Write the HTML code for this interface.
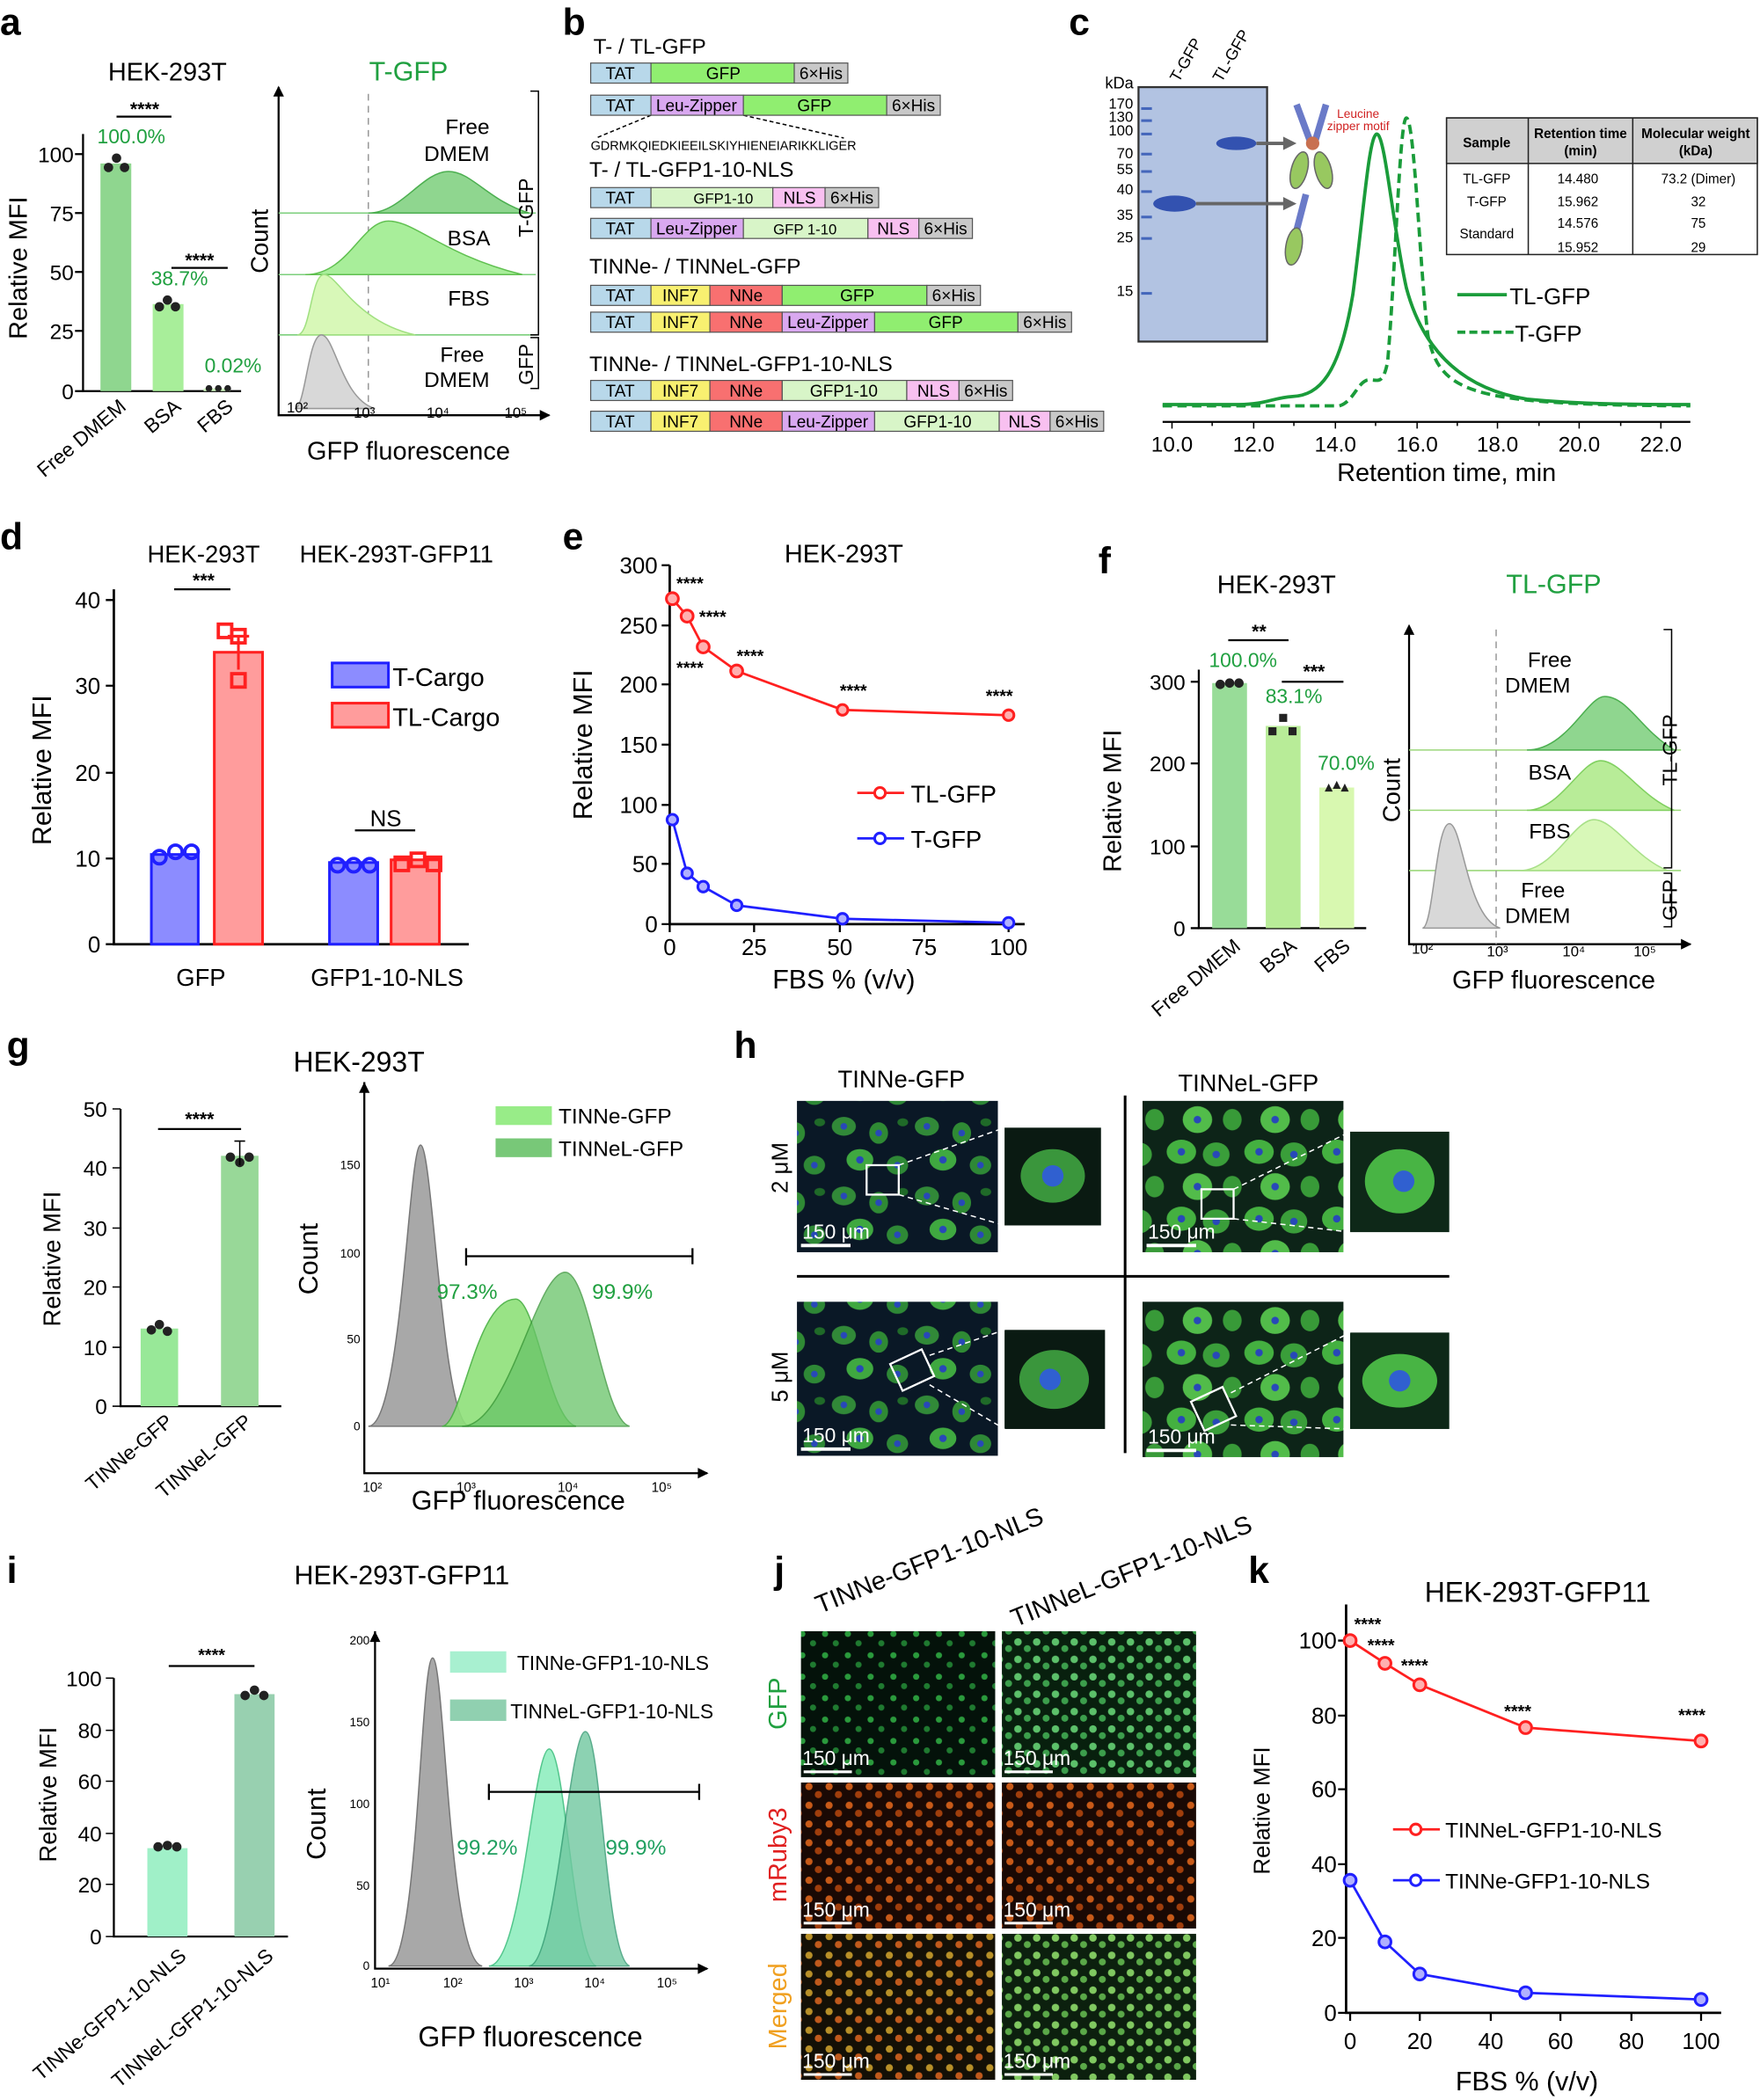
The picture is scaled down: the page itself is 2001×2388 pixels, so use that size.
<!DOCTYPE html>
<html><head><meta charset="utf-8"><style>
html,body{margin:0;padding:0;background:#fff}
svg{display:block}
text{font-family:"Liberation Sans",Arial,sans-serif}
</style></head><body>
<svg width="2001" height="2388" viewBox="0 0 1314 1568" xmlns="http://www.w3.org/2000/svg">
<defs>
<pattern id="cellsG" width="62" height="52" patternUnits="userSpaceOnUse">
<rect width="62" height="52" fill="#0a1826"/>
<ellipse cx="10" cy="9" rx="9" ry="7" fill="#35963a" opacity="0.9"/><circle cx="10" cy="9" r="2.5" fill="#2848b8"/>
<ellipse cx="36" cy="14" rx="7" ry="8" fill="#2f8a34"/><circle cx="36" cy="14" r="2.5" fill="#2848b8"/>
<ellipse cx="22" cy="34" rx="10" ry="8" fill="#3fa840"/><circle cx="22" cy="34" r="2.8" fill="#2848b8"/>
<ellipse cx="50" cy="38" rx="8" ry="7" fill="#2e8836"/><circle cx="50" cy="38" r="2.5" fill="#2848b8"/>
<ellipse cx="54" cy="6" rx="4" ry="3" fill="#1f6a28"/>
</pattern>
<pattern id="cellsG2" width="58" height="50" patternUnits="userSpaceOnUse">
<rect width="58" height="50" fill="#0d2418"/>
<ellipse cx="12" cy="10" rx="11" ry="9" fill="#44b040"/><circle cx="12" cy="10" r="2.8" fill="#2848b8"/>
<ellipse cx="38" cy="12" rx="10" ry="9" fill="#3a9e3a"/><circle cx="38" cy="12" r="2.8" fill="#2848b8"/>
<ellipse cx="24" cy="36" rx="11" ry="10" fill="#52bc4a"/><circle cx="24" cy="36" r="2.8" fill="#2848b8"/>
<ellipse cx="50" cy="36" rx="7" ry="8" fill="#389a38"/>
</pattern>
<pattern id="nucG" width="17" height="16" patternUnits="userSpaceOnUse">
<rect width="17" height="16" fill="#04120a"/><circle cx="4" cy="4" r="2.3" fill="#2a9a3c"/><circle cx="12" cy="11" r="2.3" fill="#1f7a30"/>
</pattern>
<pattern id="nucG2" width="14" height="13" patternUnits="userSpaceOnUse">
<rect width="14" height="13" fill="#08200e"/><circle cx="4" cy="4" r="2.8" fill="#5cc06a"/><circle cx="11" cy="9" r="2.6" fill="#3c9e4c"/>
</pattern>
<pattern id="nucR" width="15" height="14" patternUnits="userSpaceOnUse">
<rect width="15" height="14" fill="#1a0904"/><circle cx="4" cy="4" r="2.7" fill="#c85a18"/><circle cx="11" cy="10" r="2.7" fill="#a03e0c"/>
</pattern>
<pattern id="nucM" width="15" height="14" patternUnits="userSpaceOnUse">
<rect width="15" height="14" fill="#141006"/><circle cx="4" cy="4" r="2.7" fill="#b89028"/><circle cx="11" cy="10" r="2.7" fill="#c05a1c"/>
</pattern>
<pattern id="nucM2" width="14" height="13" patternUnits="userSpaceOnUse">
<rect width="14" height="13" fill="#0c200e"/><circle cx="4" cy="4" r="2.8" fill="#80c860"/><circle cx="11" cy="9" r="2.6" fill="#5aa848"/>
</pattern>
</defs>

<g font-weight="bold" font-size="28">
<text x="0" y="26">a</text><text x="420" y="26">b</text><text x="798" y="26">c</text>
<text x="0" y="410">d</text><text x="420" y="410">e</text><text x="820" y="428">f</text>
<text x="5" y="790">g</text><text x="548" y="790">h</text>
<text x="5" y="1182">i</text><text x="578" y="1182">j</text><text x="932" y="1182">k</text>
</g>

<!-- ===== Panel a bar ===== -->
<text x="125" y="60" font-size="19" text-anchor="middle">HEK-293T</text>
<g stroke="#000" stroke-width="1.5" fill="none">
<path d="M62 100 V292 H180"/>
<path d="M56 115H62M56 159H62M56 203H62M56 247H62M56 292H62"/>
</g>
<g font-size="16" text-anchor="end"><text x="55" y="121">100</text><text x="55" y="165">75</text><text x="55" y="209">50</text><text x="55" y="253">25</text><text x="55" y="298">0</text></g>
<text x="20" y="200" font-size="19" transform="rotate(-90 20 200)" text-anchor="middle">Relative MFI</text>
<rect x="75" y="122" width="23" height="170" fill="#8fd68f"/>
<rect x="114" y="227" width="23" height="65" fill="#a8ee9a"/>
<rect x="152" y="290" width="20" height="2" fill="#d0f8c0"/>
<g fill="#222"><circle cx="81" cy="125" r="3.5"/><circle cx="87" cy="118" r="3.5"/><circle cx="93" cy="125" r="3.5"/>
<circle cx="119" cy="229" r="3.5"/><circle cx="125" cy="224" r="3.5"/><circle cx="131" cy="229" r="3.5"/>
<circle cx="156" cy="290" r="2.5"/><circle cx="163" cy="290" r="2.5"/><circle cx="170" cy="290" r="2.5"/></g>
<path d="M87 87H128M128 200H170" stroke="#000" stroke-width="1.5"/>
<text x="108" y="86" font-size="14" font-weight="bold" text-anchor="middle">****</text>
<text x="149" y="199" font-size="14" font-weight="bold" text-anchor="middle">****</text>
<g fill="#20a040" font-size="15" text-anchor="middle"><text x="98" y="107">100.0%</text><text x="134" y="213">38.7%</text><text x="174" y="278">0.02%</text></g>
<g font-size="15" text-anchor="end"><text x="95" y="305" transform="rotate(-40 95 305)">Free DMEM</text><text x="136" y="305" transform="rotate(-40 136 305)">BSA</text><text x="175" y="305" transform="rotate(-40 175 305)">FBS</text></g>

<!-- Panel a histogram -->
<text x="305" y="60" font-size="20" fill="#20a040" text-anchor="middle">T-GFP</text>
<path d="M208 65V310H410" stroke="#000" stroke-width="1.5" fill="none"/>
<path d="M204 72L208 64L212 72Z M403 306L411 310L403 314Z"/>
<g stroke="#7ccf7c" stroke-width="1"><path d="M208 159H400M208 205H400M208 250H400"/></g>
<path d="M275 70V310" stroke="#999" stroke-dasharray="5,4"/>
<path d="M275 159 C300 159,315 128,335 128 C352 128,365 150,395 159Z" fill="#8fd68f" stroke="#4caf50"/>
<path d="M228 205 C260 205,270 165,290 165 C310 165,330 190,390 205Z" fill="#a8ee9a" stroke="#60c050"/>
<path d="M222 250 C232 250,232 205,242 205 C252 205,265 240,310 250Z" fill="#d8f8b8" stroke="#a0e080"/>
<path d="M220 305 C228 305,230 250,240 250 C250 250,255 298,280 305Z" fill="#d8d8d8" stroke="#999"/>
<g font-size="16" text-anchor="middle"><text x="349" y="100">Free</text><text x="341" y="120">DMEM</text><text x="350" y="183">BSA</text><text x="350" y="228">FBS</text><text x="345" y="270">Free</text><text x="341" y="289">DMEM</text></g>
<path d="M396 68H402V250H396M396 252H402V290H396" stroke="#000" fill="none"/>
<text x="398" y="155" font-size="15" transform="rotate(-90 398 155)" text-anchor="middle">T-GFP</text>
<text x="398" y="272" font-size="15" transform="rotate(-90 398 272)" text-anchor="middle">GFP</text>
<text x="200" y="180" font-size="18" transform="rotate(-90 200 180)" text-anchor="middle">Count</text>
<g font-size="11" text-anchor="middle"><text x="222" y="308">10²</text><text x="272" y="312">10³</text><text x="327" y="312">10⁴</text><text x="385" y="312">10⁵</text></g>
<text x="305" y="343" font-size="19" text-anchor="middle">GFP fluorescence</text>

<!-- ===== Panel b ===== -->
<g font-size="16"><text x="443" y="40">T- / TL-GFP</text><text x="440" y="132">T- / TL-GFP1-10-NLS</text><text x="440" y="204">TINNe- / TINNeL-GFP</text><text x="440" y="277">TINNe- / TINNeL-GFP1-10-NLS</text></g>
<text x="441" y="112" font-size="9.5">GDRMKQIEDKIEEILSKIYHIENEIARIKKLIGER</text>
<path d="M486 86L445 103M555 86L630 103" stroke="#000" stroke-dasharray="3,2"/>
<g stroke="#555" stroke-width="0.8" font-size="12.5">
<rect x="441" y="47" width="45" height="15" fill="#b8d8ea"/><rect x="486" y="47" width="107" height="15" fill="#90ee70"/><rect x="593" y="47" width="40" height="15" fill="#c8c8c8"/>
<rect x="441" y="71" width="45" height="15" fill="#b8d8ea"/><rect x="486" y="71" width="69" height="15" fill="#d9a8f0"/><rect x="555" y="71" width="107" height="15" fill="#90ee70"/><rect x="662" y="71" width="40" height="15" fill="#c8c8c8"/>
<rect x="441" y="140" width="45" height="15" fill="#b8d8ea"/><rect x="486" y="140" width="91" height="15" fill="#d8f5c8"/><rect x="577" y="140" width="39" height="15" fill="#f8c0f0"/><rect x="616" y="140" width="40" height="15" fill="#c8c8c8"/>
<rect x="441" y="163" width="45" height="15" fill="#b8d8ea"/><rect x="486" y="163" width="69" height="15" fill="#d9a8f0"/><rect x="555" y="163" width="93" height="15" fill="#d8f5c8"/><rect x="648" y="163" width="38" height="15" fill="#f8c0f0"/><rect x="686" y="163" width="40" height="15" fill="#c8c8c8"/>
<rect x="441" y="213" width="45" height="15" fill="#b8d8ea"/><rect x="486" y="213" width="44" height="15" fill="#f8f070"/><rect x="530" y="213" width="54" height="15" fill="#f87070"/><rect x="584" y="213" width="108" height="15" fill="#90ee70"/><rect x="692" y="213" width="40" height="15" fill="#c8c8c8"/>
<rect x="441" y="233" width="45" height="15" fill="#b8d8ea"/><rect x="486" y="233" width="44" height="15" fill="#f8f070"/><rect x="530" y="233" width="54" height="15" fill="#f87070"/><rect x="584" y="233" width="69" height="15" fill="#d9a8f0"/><rect x="653" y="233" width="107" height="15" fill="#90ee70"/><rect x="760" y="233" width="40" height="15" fill="#c8c8c8"/>
<rect x="441" y="284" width="45" height="15" fill="#b8d8ea"/><rect x="486" y="284" width="44" height="15" fill="#f8f070"/><rect x="530" y="284" width="54" height="15" fill="#f87070"/><rect x="584" y="284" width="93" height="15" fill="#d8f5c8"/><rect x="677" y="284" width="39" height="15" fill="#f8c0f0"/><rect x="716" y="284" width="40" height="15" fill="#c8c8c8"/>
<rect x="441" y="307" width="45" height="15" fill="#b8d8ea"/><rect x="486" y="307" width="44" height="15" fill="#f8f070"/><rect x="530" y="307" width="54" height="15" fill="#f87070"/><rect x="584" y="307" width="69" height="15" fill="#d9a8f0"/><rect x="653" y="307" width="93" height="15" fill="#d8f5c8"/><rect x="746" y="307" width="38" height="15" fill="#f8c0f0"/><rect x="784" y="307" width="40" height="15" fill="#c8c8c8"/>
</g>
<g font-size="12.5" text-anchor="middle">
<text x="463" y="59">TAT</text><text x="540" y="59">GFP</text><text x="613" y="59">6×His</text>
<text x="463" y="83">TAT</text><text x="520" y="83">Leu-Zipper</text><text x="608" y="83">GFP</text><text x="682" y="83">6×His</text>
<text x="463" y="152">TAT</text><text x="540" y="152" font-size="11">GFP1-10</text><text x="597" y="152">NLS</text><text x="636" y="152">6×His</text>
<text x="463" y="175">TAT</text><text x="520" y="175">Leu-Zipper</text><text x="601" y="175" font-size="11">GFP 1-10</text><text x="667" y="175">NLS</text><text x="706" y="175">6×His</text>
<text x="463" y="225">TAT</text><text x="508" y="225">INF7</text><text x="557" y="225">NNe</text><text x="640" y="225">GFP</text><text x="712" y="225">6×His</text>
<text x="463" y="245">TAT</text><text x="508" y="245">INF7</text><text x="557" y="245">NNe</text><text x="618" y="245">Leu-Zipper</text><text x="706" y="245">GFP</text><text x="780" y="245">6×His</text>
<text x="463" y="296">TAT</text><text x="508" y="296">INF7</text><text x="557" y="296">NNe</text><text x="630" y="296">GFP1-10</text><text x="697" y="296">NLS</text><text x="736" y="296">6×His</text>
<text x="463" y="319">TAT</text><text x="508" y="319">INF7</text><text x="557" y="319">NNe</text><text x="618" y="319">Leu-Zipper</text><text x="700" y="319">GFP1-10</text><text x="765" y="319">NLS</text><text x="804" y="319">6×His</text>
</g>

<!-- ===== Panel c ===== -->
<rect x="850" y="65" width="96" height="190" fill="#b2c3e2" stroke="#333" stroke-width="1.5"/>
<g fill="#4466bb"><rect x="852" y="80" width="8" height="2"/><rect x="852" y="89" width="8" height="2"/><rect x="852" y="99" width="8" height="2"/><rect x="852" y="114" width="8" height="2"/><rect x="852" y="127" width="8" height="2"/><rect x="852" y="142" width="8" height="2"/><rect x="852" y="161" width="8" height="2"/><rect x="852" y="177" width="8" height="2"/><rect x="852" y="218" width="8" height="2"/></g>
<ellipse cx="877" cy="152" rx="16" ry="6" fill="#3352b0"/>
<ellipse cx="923" cy="107" rx="15" ry="5" fill="#3352b0"/>
<path d="M893 152H960M938 107H960" stroke="#666" stroke-width="2.5"/>
<path d="M958 102L968 107L958 112Z M958 147L968 152L958 157Z" fill="#666"/>
<g font-size="11" text-anchor="end"><text x="846" y="81">170</text><text x="846" y="91">130</text><text x="846" y="101">100</text><text x="846" y="118">70</text><text x="846" y="130">55</text><text x="846" y="145">40</text><text x="846" y="164">35</text><text x="846" y="181">25</text><text x="846" y="221">15</text></g>
<text x="825" y="66" font-size="12">kDa</text>
<text x="880" y="62" font-size="12" transform="rotate(-60 880 62)">T-GFP</text>
<text x="912" y="62" font-size="12" transform="rotate(-60 912 62)">TL-GFP</text>
<path d="M968 78L978 105M990 78L982 105" stroke="#6a7ac8" stroke-width="5"/>
<circle cx="980" cy="107" r="5" fill="#c87050"/>
<ellipse cx="970" cy="127" rx="6" ry="14" fill="#98c860" stroke="#666" transform="rotate(15 970 127)"/>
<ellipse cx="988" cy="127" rx="6" ry="14" fill="#98c860" stroke="#666" transform="rotate(-15 988 127)"/>
<path d="M975 145L968 172" stroke="#6a7ac8" stroke-width="5"/>
<ellipse cx="966" cy="184" rx="6" ry="14" fill="#98c860" stroke="#666" transform="rotate(10 966 184)"/>
<text x="1014" y="88" font-size="9" fill="#d02020" text-anchor="middle">Leucine</text>
<text x="1014" y="97" font-size="9" fill="#d02020" text-anchor="middle">zipper motif</text>
<rect x="1080" y="88" width="232" height="102" fill="#fff" stroke="#222"/>
<rect x="1080" y="88" width="232" height="34" fill="#d0d0d0" stroke="#222"/>
<path d="M1141 88V190M1219 88V190" stroke="#222"/>
<g font-size="10" text-anchor="middle">
<text x="1110" y="110" font-weight="bold">Sample</text><text x="1180" y="103" font-weight="bold">Retention time</text><text x="1180" y="116" font-weight="bold">(min)</text><text x="1266" y="103" font-weight="bold">Molecular weight</text><text x="1266" y="116" font-weight="bold">(kDa)</text>
<text x="1110" y="137">TL-GFP</text><text x="1178" y="137">14.480</text><text x="1268" y="137">73.2 (Dimer)</text>
<text x="1110" y="154">T-GFP</text><text x="1178" y="154">15.962</text><text x="1268" y="154">32</text>
<text x="1110" y="178">Standard</text><text x="1178" y="170">14.576</text><text x="1268" y="170">75</text><text x="1178" y="188">15.952</text><text x="1268" y="188">29</text>
</g>
<path d="M868 315H1262" stroke="#000" stroke-width="1.5"/>
<g stroke="#000"><path d="M875 315v5M905 315v3M936 315v5M966 315v3M997 315v5M1027 315v3M1058 315v5M1088 315v3M1118 315v5M1149 315v3M1179 315v5M1210 315v3M1240 315v5"/></g>
<g font-size="16" text-anchor="middle"><text x="875" y="337">10.0</text><text x="936" y="337">12.0</text><text x="997" y="337">14.0</text><text x="1058" y="337">16.0</text><text x="1118" y="337">18.0</text><text x="1179" y="337">20.0</text><text x="1240" y="337">22.0</text></g>
<text x="1080" y="359" font-size="19" text-anchor="middle">Retention time, min</text>
<path d="M868 302H925C945 302,950 297,965 296C985 295,1000 280,1010 220C1018 160,1022 100,1028 100C1034 100,1040 170,1050 215C1062 260,1090 290,1140 298C1180 302,1230 302,1262 302" fill="none" stroke="#1a9c3a" stroke-width="2.5"/>
<path d="M868 303H1000C1010 300,1013 287,1020 284C1028 282,1032 290,1036 270C1042 200,1045 88,1050 88C1056 88,1060 200,1066 250C1075 295,1100 302,1262 303" fill="none" stroke="#1a9c3a" stroke-width="2.5" stroke-dasharray="7,4"/>
<path d="M1088 220H1125" stroke="#1a9c3a" stroke-width="2.5"/><text x="1127" y="227" font-size="17">TL-GFP</text>
<path d="M1088 248H1130" stroke="#1a9c3a" stroke-width="2.5" stroke-dasharray="6,3"/><text x="1131" y="255" font-size="17">T-GFP</text>

<!-- ===== Panel d ===== -->
<text x="152" y="420" font-size="18" text-anchor="middle">HEK-293T</text>
<text x="296" y="420" font-size="18" text-anchor="middle">HEK-293T-GFP11</text>
<path d="M85 440V705H350" stroke="#000" stroke-width="1.8" fill="none"/>
<path d="M79 448H85M79 512H85M79 577H85M79 641H85M79 705H85" stroke="#000" stroke-width="1.5"/>
<g font-size="17" text-anchor="end"><text x="75" y="454">40</text><text x="75" y="518">30</text><text x="75" y="583">20</text><text x="75" y="647">10</text><text x="75" y="711">0</text></g>
<text x="38" y="575" font-size="20" transform="rotate(-90 38 575)" text-anchor="middle">Relative MFI</text>
<rect x="113" y="638" width="35" height="67" fill="#8c8cff" stroke="#2020ff" stroke-width="2"/>
<rect x="160" y="487" width="36" height="218" fill="#ff9c9c" stroke="#ff2020" stroke-width="2"/>
<rect x="246" y="644" width="36" height="61" fill="#8c8cff" stroke="#2020ff" stroke-width="2"/>
<rect x="292" y="642" width="36" height="63" fill="#ff9c9c" stroke="#ff2020" stroke-width="2"/>
<g fill="none" stroke-width="2.5"><g stroke="#2020ff"><circle cx="119" cy="640" r="5"/><circle cx="131" cy="636" r="5"/><circle cx="143" cy="636" r="5"/><circle cx="252" cy="646" r="5"/><circle cx="264" cy="646" r="5"/><circle cx="276" cy="646" r="5"/></g>
<g stroke="#ff2020"><rect x="163" y="466" width="10" height="10"/><rect x="173" y="470" width="10" height="10"/><rect x="173" y="503" width="10" height="10"/><rect x="295" y="640" width="10" height="10"/><rect x="307" y="637" width="10" height="10"/><rect x="319" y="640" width="10" height="10"/></g></g>
<path d="M178 475V500M170 475H186" stroke="#ff2020" stroke-width="2"/>
<path d="M130 440H172M265 620H310" stroke="#000" stroke-width="1.5"/>
<text x="152" y="438" font-size="14" font-weight="bold" text-anchor="middle">***</text>
<text x="288" y="617" font-size="17" text-anchor="middle">NS</text>
<rect x="248" y="495" width="42" height="18" fill="#8c8cff" stroke="#2020ff" stroke-width="2"/><text x="293" y="512" font-size="19">T-Cargo</text>
<rect x="248" y="525" width="42" height="18" fill="#ff9c9c" stroke="#ff2020" stroke-width="2"/><text x="293" y="542" font-size="19">TL-Cargo</text>
<g font-size="18" text-anchor="middle"><text x="150" y="736">GFP</text><text x="289" y="736">GFP1-10-NLS</text></g>

<!-- ===== Panel e ===== -->
<text x="630" y="420" font-size="19" text-anchor="middle">HEK-293T</text>
<path d="M500 422V690H765" stroke="#000" stroke-width="1.8" fill="none"/>
<g stroke="#000" stroke-width="1.5"><path d="M494 422H500M494 467H500M494 511H500M494 556H500M494 601H500M494 645H500M494 690H500M500 690v6M563 690v6M627 690v6M690 690v6M753 690v6"/></g>
<g font-size="17" text-anchor="end"><text x="491" y="428">300</text><text x="491" y="473">250</text><text x="491" y="517">200</text><text x="491" y="562">150</text><text x="491" y="607">100</text><text x="491" y="651">50</text><text x="491" y="696">0</text></g>
<g font-size="17" text-anchor="middle"><text x="500" y="713">0</text><text x="563" y="713">25</text><text x="627" y="713">50</text><text x="690" y="713">75</text><text x="753" y="713">100</text></g>
<text x="630" y="738" font-size="20" text-anchor="middle">FBS % (v/v)</text>
<text x="442" y="556" font-size="20" transform="rotate(-90 442 556)" text-anchor="middle">Relative MFI</text>
<polyline points="502,447 513,460 525,483 550,501 629,530 753,534" fill="none" stroke="#ff2020" stroke-width="1.8"/>
<polyline points="502,612 513,652 525,662 550,676 629,686 753,689" fill="none" stroke="#2020ff" stroke-width="1.8"/>
<g fill="#ffb0b0" stroke="#ff2020" stroke-width="2"><circle cx="502" cy="447" r="4.5"/><circle cx="513" cy="460" r="4.5"/><circle cx="525" cy="483" r="4.5"/><circle cx="550" cy="501" r="4.5"/><circle cx="629" cy="530" r="4"/><circle cx="753" cy="534" r="4"/></g>
<g fill="#b0b0ff" stroke="#2020ff" stroke-width="2"><circle cx="502" cy="612" r="4"/><circle cx="513" cy="652" r="4"/><circle cx="525" cy="662" r="4"/><circle cx="550" cy="676" r="4"/><circle cx="629" cy="686" r="4"/><circle cx="753" cy="689" r="4"/></g>
<g font-size="13" font-weight="bold"><text x="505" y="440">****</text><text x="522" y="465">****</text><text x="505" y="503">****</text><text x="550" y="494">****</text><text x="627" y="520">****</text><text x="736" y="524">****</text></g>
<path d="M640 592H675" stroke="#ff2020" stroke-width="1.8"/><circle cx="657" cy="592" r="4" fill="#fff" stroke="#ff2020" stroke-width="2"/><text x="680" y="599" font-size="18">TL-GFP</text>
<path d="M640 626H675" stroke="#2020ff" stroke-width="1.8"/><circle cx="657" cy="626" r="4" fill="#fff" stroke="#2020ff" stroke-width="2"/><text x="680" y="633" font-size="18">T-GFP</text>

<!-- ===== Panel f ===== -->
<text x="953" y="443" font-size="19" text-anchor="middle">HEK-293T</text>
<path d="M895 500V693H1020" stroke="#000" stroke-width="1.5" fill="none"/>
<path d="M889 509H895M889 570H895M889 632H895M889 693H895" stroke="#000" stroke-width="1.5"/>
<g font-size="16" text-anchor="end"><text x="885" y="515">300</text><text x="885" y="576">200</text><text x="885" y="638">100</text><text x="885" y="699">0</text></g>
<text x="837" y="598" font-size="19" transform="rotate(-90 837 598)" text-anchor="middle">Relative MFI</text>
<rect x="905" y="510" width="26" height="183" fill="#98dc98"/><rect x="945" y="542" width="26" height="151" fill="#b8ec98"/><rect x="985" y="588" width="26" height="105" fill="#d8f8b0"/>
<g fill="#222"><circle cx="911" cy="511" r="3.5"/><circle cx="918" cy="510" r="3.5"/><circle cx="925" cy="510" r="3.5"/><rect x="947" y="543" width="6" height="6"/><rect x="955" y="533" width="6" height="6"/><rect x="962" y="543" width="6" height="6"/><path d="M989 591l3-6 3 6z M995 589l3-6 3 6z M1001 591l3-6 3 6z"/></g>
<path d="M917 478H962M957 509H1003" stroke="#000" stroke-width="1.5"/>
<text x="940" y="476" font-size="14" font-weight="bold" text-anchor="middle">**</text><text x="981" y="506" font-size="14" font-weight="bold" text-anchor="middle">***</text>
<g fill="#20a040" font-size="15" text-anchor="middle"><text x="928" y="498">100.0%</text><text x="966" y="525">83.1%</text><text x="1005" y="575">70.0%</text></g>
<g font-size="15" text-anchor="end"><text x="927" y="708" transform="rotate(-40 927 708)">Free DMEM</text><text x="969" y="708" transform="rotate(-40 969 708)">BSA</text><text x="1009" y="708" transform="rotate(-40 1009 708)">FBS</text></g>
<text x="1160" y="443" font-size="20" fill="#20a040" text-anchor="middle">TL-GFP</text>
<path d="M1052 470V705H1262" stroke="#000" stroke-width="1.5" fill="none"/>
<path d="M1048 474L1052 466L1056 474Z M1255 701L1263 705L1255 709Z"/>
<g stroke="#9cd87c"><path d="M1052 560H1255M1052 605H1255M1052 650H1255"/></g>
<path d="M1117 470V705" stroke="#999" stroke-dasharray="5,4"/>
<path d="M1140 560 C1170 560,1185 520,1198 520 C1215 520,1225 545,1250 560Z" fill="#8fd68f" stroke="#4caf50"/>
<path d="M1140 605 C1165 605,1180 568,1195 568 C1210 568,1225 595,1250 605Z" fill="#b8ec98" stroke="#80d060"/>
<path d="M1135 650 C1160 650,1175 612,1190 612 C1205 612,1220 640,1245 650Z" fill="#d8f8b8" stroke="#a8e088"/>
<path d="M1062 693 C1070 693,1072 615,1082 615 C1092 615,1095 685,1120 693Z" fill="#d8d8d8" stroke="#999"/>
<g font-size="16" text-anchor="middle"><text x="1157" y="498">Free</text><text x="1148" y="517">DMEM</text><text x="1157" y="582">BSA</text><text x="1157" y="626">FBS</text><text x="1152" y="670">Free</text><text x="1148" y="689">DMEM</text></g>
<path d="M1242 470H1248V648H1242M1242 652H1248V692H1242" stroke="#000" fill="none"/>
<text x="1252" y="560" font-size="15" transform="rotate(-90 1252 560)" text-anchor="middle">TL-GFP</text>
<text x="1252" y="672" font-size="15" transform="rotate(-90 1252 672)" text-anchor="middle">GFP</text>
<text x="1045" y="590" font-size="18" transform="rotate(-90 1045 590)" text-anchor="middle">Count</text>
<g font-size="11" text-anchor="middle"><text x="1062" y="712">10²</text><text x="1118" y="714">10³</text><text x="1175" y="714">10⁴</text><text x="1228" y="714">10⁵</text></g>
<text x="1160" y="738" font-size="19" text-anchor="middle">GFP fluorescence</text>

<!-- ===== Panel g ===== -->
<text x="268" y="800" font-size="21" text-anchor="middle">HEK-293T</text>
<path d="M90 828V1050H210" stroke="#000" stroke-width="1.5" fill="none"/>
<path d="M84 828H90M84 872H90M84 917H90M84 961H90M84 1006H90M84 1050H90" stroke="#000"/>
<g font-size="16" text-anchor="end"><text x="80" y="834">50</text><text x="80" y="878">40</text><text x="80" y="923">30</text><text x="80" y="967">20</text><text x="80" y="1012">10</text><text x="80" y="1056">0</text></g>
<text x="45" y="940" font-size="18" transform="rotate(-90 45 940)" text-anchor="middle">Relative MFI</text>
<rect x="105" y="992" width="28" height="58" fill="#98e898"/><rect x="165" y="863" width="28" height="187" fill="#98d898"/>
<g fill="#222"><circle cx="113" cy="993" r="3.5"/><circle cx="119" cy="989" r="3.5"/><circle cx="125" cy="994" r="3.5"/><circle cx="172" cy="864" r="3.5"/><circle cx="179" cy="868" r="3.5"/><circle cx="186" cy="864" r="3.5"/></g>
<path d="M179 852V870M175 852H183" stroke="#000"/>
<path d="M118 843H180" stroke="#000" stroke-width="1.5"/><text x="149" y="840" font-size="14" font-weight="bold" text-anchor="middle">****</text>
<g font-size="15" text-anchor="end"><text x="130" y="1063" transform="rotate(-40 130 1063)">TINNe-GFP</text><text x="189" y="1063" transform="rotate(-40 189 1063)">TINNeL-GFP</text></g>
<path d="M272 808V1100H528" stroke="#000" stroke-width="1.5" fill="none"/>
<path d="M268 816L272 808L276 816Z M521 1096L529 1100L521 1104Z"/>
<g font-size="9" text-anchor="end"><text x="269" y="873">150</text><text x="269" y="939">100</text><text x="269" y="1003">50</text><text x="269" y="1068">0</text></g>
<path d="M275 1065 C300 1065,305 855,314 855 C323 855,330 1060,350 1065Z" fill="#a8a8a8" stroke="#777"/>
<path d="M330 1065 C345 1065,355 970,385 970 C400 970,410 1060,430 1065Z" fill="#8ee07a" stroke="#46b040" opacity="0.9"/>
<path d="M345 1065 C380 1065,400 950,422 950 C440 950,450 1060,470 1065Z" fill="#68c468" stroke="#309030" opacity="0.75"/>
<path d="M348 938V945V938H517M348 932V944M517 932V944" stroke="#000" stroke-width="1.5"/>
<g fill="#20a040" font-size="16"><text x="326" y="970">97.3%</text><text x="442" y="970">99.9%</text></g>
<rect x="370" y="826" width="42" height="14" fill="#98ec88"/><text x="417" y="839" font-size="16">TINNe-GFP</text>
<rect x="370" y="850" width="42" height="14" fill="#78c878"/><text x="417" y="863" font-size="16">TINNeL-GFP</text>
<text x="237" y="940" font-size="20" transform="rotate(-90 237 940)" text-anchor="middle">Count</text>
<g font-size="10" text-anchor="middle"><text x="278" y="1114">10²</text><text x="348" y="1114">10³</text><text x="424" y="1114">10⁴</text><text x="494" y="1114">10⁵</text></g>
<text x="387" y="1127" font-size="20" text-anchor="middle">GFP fluorescence</text>

<!-- ===== Panel h ===== -->
<text x="673" y="812" font-size="18" text-anchor="middle">TINNe-GFP</text><text x="932" y="815" font-size="18" text-anchor="middle">TINNeL-GFP</text>
<text x="588" y="872" font-size="17" transform="rotate(-90 588 872)" text-anchor="middle">2 μM</text>
<text x="588" y="1028" font-size="17" transform="rotate(-90 588 1028)" text-anchor="middle">5 μM</text>
<path d="M840 818V1085M595 953H1082" stroke="#000" stroke-width="2"/>
<rect x="595" y="822" width="150" height="113" fill="url(#cellsG)"/><rect x="750" y="842" width="72" height="73" fill="#0a1a12"/><ellipse cx="786" cy="878" rx="24" ry="20" fill="#3a963c"/><circle cx="786" cy="878" r="8" fill="#3060d0"/>
<rect x="853" y="822" width="150" height="113" fill="url(#cellsG2)"/><rect x="1008" y="845" width="74" height="75" fill="#0e2818"/><ellipse cx="1045" cy="882" rx="26" ry="24" fill="#48b444"/><circle cx="1048" cy="882" r="8" fill="#3060d0"/>
<rect x="595" y="972" width="150" height="115" fill="url(#cellsG)"/><rect x="750" y="993" width="75" height="74" fill="#0a1a12"/><ellipse cx="787" cy="1030" rx="26" ry="22" fill="#3a963c"/><circle cx="784" cy="1030" r="8" fill="#3060d0"/>
<rect x="853" y="972" width="150" height="116" fill="url(#cellsG2)"/><rect x="1008" y="995" width="74" height="72" fill="#0e2818"/><ellipse cx="1045" cy="1031" rx="28" ry="20" fill="#48b444"/><circle cx="1045" cy="1031" r="8" fill="#3060d0"/>
<g fill="none" stroke="#fff" stroke-width="1.5"><rect x="647" y="870" width="24" height="22"/><rect x="897" y="888" width="24" height="22"/><rect x="668" y="1012" width="26" height="22" transform="rotate(-25 681 1023)"/><rect x="893" y="1040" width="26" height="24" transform="rotate(-25 906 1052)"/></g>
<g stroke="#fff" stroke-dasharray="4,3"><path d="M671 870L750 842M671 892L750 915M921 888L1008 845M921 910L1008 920M694 1012L750 993M694 1034L750 1067M919 1040L1008 995M919 1064L1008 1067"/></g>
<g fill="#fff" font-size="15"><text x="599" y="925">150 μm</text><text x="857" y="925">150 μm</text><text x="599" y="1077">150 μm</text><text x="857" y="1078">150 μm</text></g>
<g stroke="#fff" stroke-width="2.5"><path d="M598 930H635M856 930H893M598 1082H635M856 1083H893"/></g>

<!-- ===== Panel i ===== -->
<text x="300" y="1183" font-size="20" text-anchor="middle">HEK-293T-GFP11</text>
<path d="M85 1253V1446H215" stroke="#000" stroke-width="1.5" fill="none"/>
<path d="M79 1253H85M79 1292H85M79 1330H85M79 1369H85M79 1407H85M79 1446H85" stroke="#000"/>
<g font-size="16" text-anchor="end"><text x="76" y="1259">100</text><text x="76" y="1298">80</text><text x="76" y="1336">60</text><text x="76" y="1375">40</text><text x="76" y="1413">20</text><text x="76" y="1452">0</text></g>
<text x="42" y="1340" font-size="18" transform="rotate(-90 42 1340)" text-anchor="middle">Relative MFI</text>
<rect x="110" y="1380" width="30" height="66" fill="#a0f0c8"/><rect x="175" y="1265" width="30" height="181" fill="#98d0b0"/>
<g fill="#222"><circle cx="118" cy="1379" r="3.5"/><circle cx="125" cy="1378" r="3.5"/><circle cx="132" cy="1379" r="3.5"/><circle cx="183" cy="1266" r="3.5"/><circle cx="190" cy="1262" r="3.5"/><circle cx="197" cy="1266" r="3.5"/></g>
<path d="M126 1244H190" stroke="#000" stroke-width="1.5"/><text x="158" y="1240" font-size="13" font-weight="bold" text-anchor="middle">****</text>
<g font-size="15" text-anchor="end"><text x="140" y="1462" transform="rotate(-40 140 1462)">TINNe-GFP1-10-NLS</text><text x="205" y="1462" transform="rotate(-40 205 1462)">TINNeL-GFP1-10-NLS</text></g>
<path d="M280 1218V1470H528" stroke="#000" stroke-width="1.5" fill="none"/>
<path d="M276 1226L280 1218L284 1226Z M521 1466L529 1470L521 1474Z"/>
<g font-size="9" text-anchor="end"><text x="276" y="1228">200</text><text x="276" y="1289">150</text><text x="276" y="1350">100</text><text x="276" y="1411">50</text><text x="276" y="1471">0</text></g>
<path d="M290 1468 C312 1468,314 1238,323 1238 C332 1238,335 1465,360 1468Z" fill="#a8a8a8" stroke="#777"/>
<path d="M365 1468 C390 1468,398 1306,410 1306 C422 1306,428 1462,445 1468Z" fill="#90eebf" stroke="#40c080" opacity="0.9"/>
<path d="M395 1468 C415 1468,425 1293,437 1293 C449 1293,452 1462,470 1468Z" fill="#70c8a0" stroke="#309870" opacity="0.8"/>
<path d="M365 1338H522M365 1332V1344M522 1332V1344" stroke="#000" stroke-width="1.5"/>
<g fill="#20a060" font-size="16"><text x="341" y="1385">99.2%</text><text x="452" y="1385">99.9%</text></g>
<rect x="336" y="1233" width="42" height="16" fill="#a8f0d0"/><text x="386" y="1247" font-size="15">TINNe-GFP1-10-NLS</text>
<rect x="336" y="1269" width="42" height="16" fill="#90d0b0"/><text x="381" y="1283" font-size="15">TINNeL-GFP1-10-NLS</text>
<text x="243" y="1362" font-size="20" transform="rotate(-90 243 1362)" text-anchor="middle">Count</text>
<g font-size="10" text-anchor="middle"><text x="284" y="1484">10¹</text><text x="338" y="1484">10²</text><text x="391" y="1484">10³</text><text x="444" y="1484">10⁴</text><text x="498" y="1484">10⁵</text></g>
<text x="396" y="1528" font-size="21" text-anchor="middle">GFP fluorescence</text>

<!-- ===== Panel j ===== -->
<text x="612" y="1205" font-size="19" transform="rotate(-22 612 1205)">TINNe-GFP1-10-NLS</text>
<text x="758" y="1215" font-size="19" transform="rotate(-22 758 1215)">TINNeL-GFP1-10-NLS</text>
<rect x="598" y="1218" width="145" height="109" fill="url(#nucG)"/><rect x="748" y="1218" width="145" height="109" fill="url(#nucG2)"/>
<rect x="598" y="1331" width="145" height="109" fill="url(#nucR)"/><rect x="748" y="1331" width="145" height="109" fill="url(#nucR)"/>
<rect x="598" y="1444" width="145" height="109" fill="url(#nucM)"/><rect x="748" y="1444" width="145" height="109" fill="url(#nucM2)"/>
<text x="587" y="1272" font-size="19" fill="#20a040" transform="rotate(-90 587 1272)" text-anchor="middle">GFP</text>
<text x="587" y="1385" font-size="19" fill="#e02020" transform="rotate(-90 587 1385)" text-anchor="middle">mRuby3</text>
<text x="587" y="1498" font-size="19" fill="#f0a020" transform="rotate(-90 587 1498)" text-anchor="middle">Merged</text>
<g fill="#fff" font-size="15"><text x="599" y="1318">150 μm</text><text x="749" y="1318">150 μm</text><text x="599" y="1431">150 μm</text><text x="749" y="1431">150 μm</text><text x="599" y="1544">150 μm</text><text x="749" y="1544">150 μm</text></g>
<g stroke="#fff" stroke-width="2"><path d="M600 1323H636M750 1323H786M600 1436H636M750 1436H786M600 1549H636M750 1549H786"/></g>

<!-- ===== Panel k ===== -->
<text x="1148" y="1196" font-size="21" text-anchor="middle">HEK-293T-GFP11</text>
<path d="M1005 1198V1503H1285" stroke="#000" stroke-width="1.8" fill="none"/>
<g stroke="#000" stroke-width="1.5"><path d="M999 1225H1005M999 1281H1005M999 1336H1005M999 1392H1005M999 1447H1005M999 1503H1005M1008 1503v6M1060 1503v6M1113 1503v6M1165 1503v6M1218 1503v6M1270 1503v6"/></g>
<g font-size="17" text-anchor="end"><text x="998" y="1231">100</text><text x="998" y="1287">80</text><text x="998" y="1342">60</text><text x="998" y="1398">40</text><text x="998" y="1453">20</text><text x="998" y="1509">0</text></g>
<g font-size="17" text-anchor="middle"><text x="1008" y="1530">0</text><text x="1060" y="1530">20</text><text x="1113" y="1530">40</text><text x="1165" y="1530">60</text><text x="1218" y="1530">80</text><text x="1270" y="1530">100</text></g>
<text x="1140" y="1561" font-size="20" text-anchor="middle">FBS % (v/v)</text>
<text x="948" y="1352" font-size="17" transform="rotate(-90 948 1352)" text-anchor="middle">Relative MFI</text>
<polyline points="1008,1225 1034,1242 1060,1258 1139,1290 1270,1300" fill="none" stroke="#ff2020" stroke-width="1.8"/>
<polyline points="1008,1404 1034,1450 1060,1474 1139,1488 1270,1493" fill="none" stroke="#2020ff" stroke-width="1.8"/>
<g fill="#ffb0b0" stroke="#ff2020" stroke-width="2"><circle cx="1008" cy="1225" r="4.5"/><circle cx="1034" cy="1242" r="4.5"/><circle cx="1060" cy="1258" r="4.5"/><circle cx="1139" cy="1290" r="4.5"/><circle cx="1270" cy="1300" r="4.5"/></g>
<g fill="#b0b0ff" stroke="#2020ff" stroke-width="2"><circle cx="1008" cy="1404" r="4.5"/><circle cx="1034" cy="1450" r="4.5"/><circle cx="1060" cy="1474" r="4.5"/><circle cx="1139" cy="1488" r="4.5"/><circle cx="1270" cy="1493" r="4.5"/></g>
<g font-size="13" font-weight="bold"><text x="1011" y="1217">****</text><text x="1021" y="1233">****</text><text x="1046" y="1248">****</text><text x="1123" y="1282">****</text><text x="1253" y="1285">****</text></g>
<path d="M1040 1366H1075" stroke="#ff2020" stroke-width="1.8"/><circle cx="1057" cy="1366" r="4" fill="#fff" stroke="#ff2020" stroke-width="2"/><text x="1079" y="1372" font-size="16">TINNeL-GFP1-10-NLS</text>
<path d="M1040 1404H1075" stroke="#2020ff" stroke-width="1.8"/><circle cx="1057" cy="1404" r="4" fill="#fff" stroke="#2020ff" stroke-width="2"/><text x="1079" y="1410" font-size="16">TINNe-GFP1-10-NLS</text>
</svg>
</body></html>
